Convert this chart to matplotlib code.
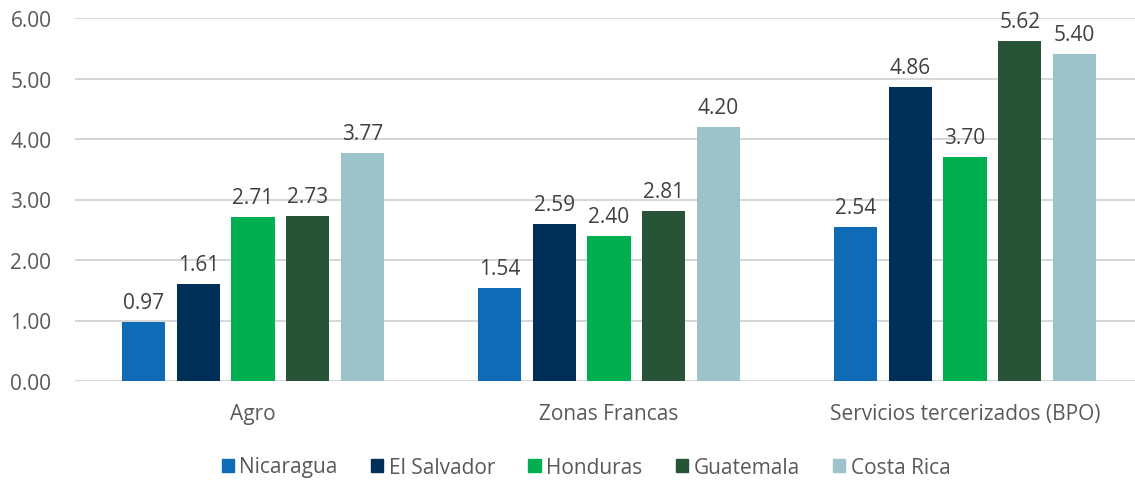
import numpy as np
import matplotlib
matplotlib.use('Agg')
import matplotlib.pyplot as plt
from matplotlib.patches import Patch

categories = ['Agro', 'Zonas Francas', 'Servicios tercerizados (BPO)']
countries = ['Nicaragua', 'El Salvador', 'Honduras', 'Guatemala', 'Costa Rica']
nicaragua = [0.97, 1.54, 2.54]
el_salvador = [1.61, 2.59, 4.86]
honduras = [2.71, 2.40, 3.70]
guatemala = [2.73, 2.81, 5.62]
costa_rica = [3.77, 4.20, 5.40]
colors = ['#0F6BB5', '#003057', '#00B050', '#275437', '#9BC3C9']

series = [nicaragua, el_salvador, honduras, guatemala, costa_rica]

plt.rcParams['font.family'] = ['Open Sans', 'DejaVu Sans']

fig = plt.figure(figsize=(11.35, 4.81), dpi=100)
ax = fig.add_axes([75/1135, (481-382)/481, 1 - 75/1135, (382-19)/481])

x = np.arange(len(categories))
width = 0.121
step = 0.1537
for i, (vals, col) in enumerate(zip(series, colors)):
    pos = x + (i - 2) * step
    ax.bar(pos, vals, width, color=col, zorder=3)
    for p, v in zip(pos, vals):
        ax.text(p, v + 0.15, f'{v:.2f}', ha='center', va='bottom',
                fontsize=15, color='#404040')

ax.set_ylim(0, 6)
ax.set_xlim(-0.5, (1135 - 75) / 356 - 0.5)
ax.set_yticks(np.arange(0, 7, 1))
ax.set_yticklabels([f'{v:.2f}' for v in np.arange(0, 7, 1)])
ax.set_xticks(x)
ax.set_xticklabels(categories)
ax.tick_params(axis='both', length=0, labelsize=15, colors='#595959')
ax.tick_params(axis='x', pad=16)
ax.tick_params(axis='y', pad=17)
ax.grid(axis='y', color='#D0D0D0', linewidth=1.2, zorder=0)
for s in ['top', 'right', 'left', 'bottom']:
    ax.spines[s].set_visible(False)

handles = [Patch(color=c) for c in colors]
fig.legend(handles, countries, loc='center', bbox_to_anchor=(586/1135, 1 - 468/481),
           ncol=5, frameon=False, fontsize=15, labelcolor='#595959',
           handlelength=0.6, handleheight=0.6, handletextpad=0.25, columnspacing=1.6)

fig.savefig('out.png', dpi=100)
